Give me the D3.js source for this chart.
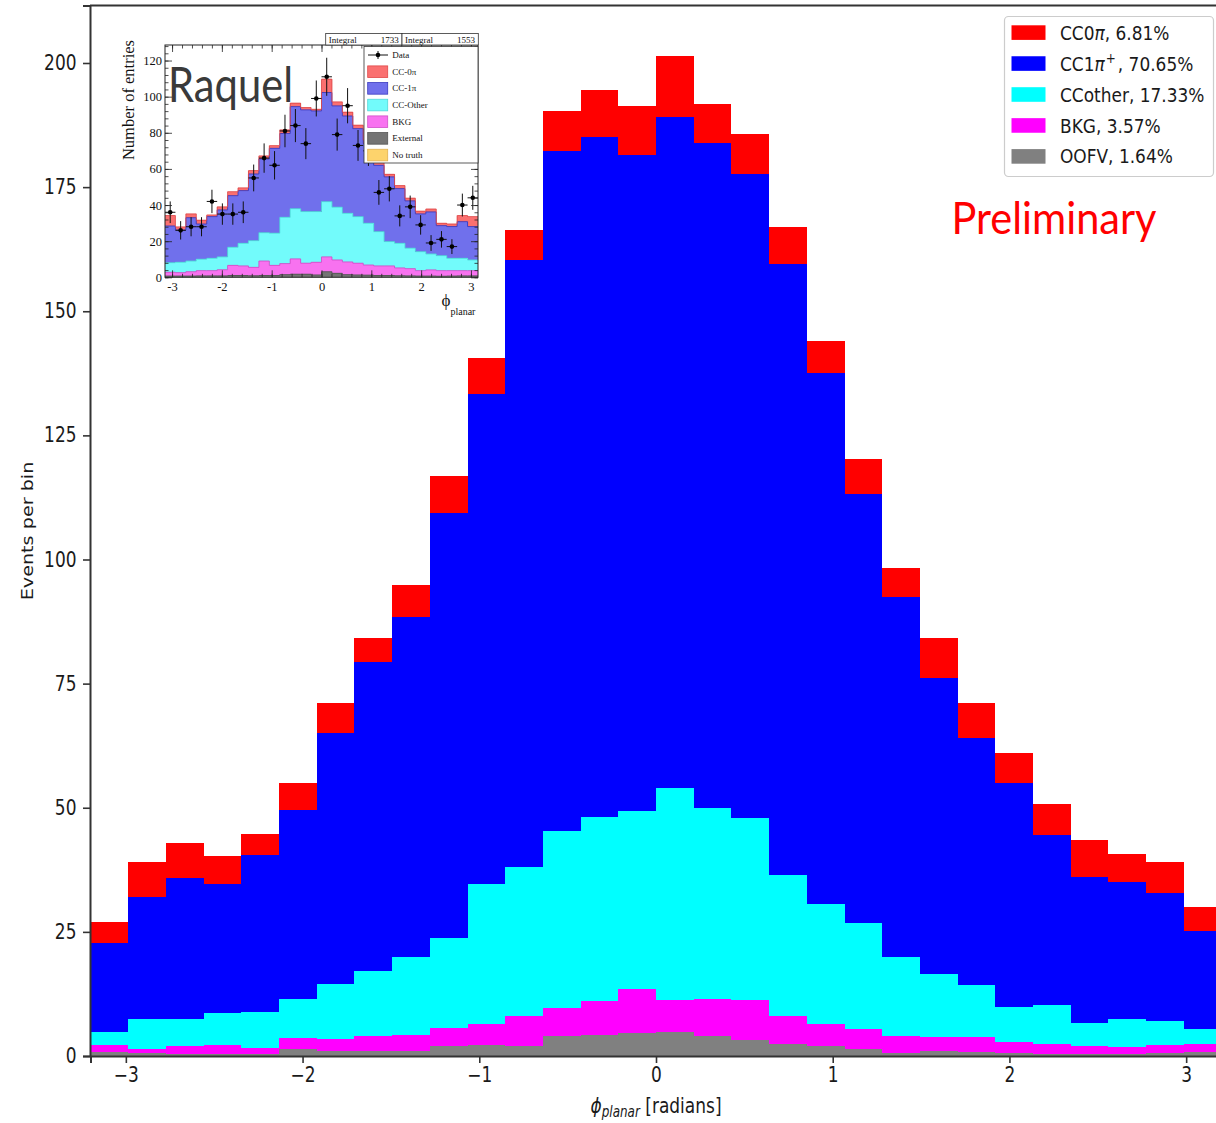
<!DOCTYPE html>
<html>
<head>
<meta charset="utf-8">
<script src="https://cdn.jsdelivr.net/npm/d3@7"></script>
<style>
body { margin: 0; background: #fff; }
svg { display: block; }
</style>
</head>
<body>
<div id="chart"></div>
<script>
// main histogram: 30 bins on [-3.2, 3.2]
var binLo = -3.2, binHi = 3.2;
var cc0pi   = [4.2, 6.9, 7.1, 5.6, 4.3, 5.3, 5.9, 4.8, 6.4, 7.6, 7.2, 6.0, 8.1, 9.4, 10.0, 12.3, 8.0, 8.0, 7.4, 6.5, 7.1, 5.8, 8.1, 7.1, 6.1, 6.2, 7.4, 5.6, 6.1, 4.9];
var cc1pip  = [17.9, 24.7, 28.3, 25.9, 31.6, 38.1, 50.5, 62.1, 68.4, 85.6, 98.7, 122.3, 136.8, 136.9, 132.0, 135.3, 133.8, 129.7, 123.1, 106.9, 86.4, 72.4, 59.5, 49.8, 45.0, 34.3, 29.5, 27.7, 25.8, 19.7];
var ccother = [2.7, 5.9, 5.4, 6.5, 7.2, 7.8, 11.1, 13.1, 15.7, 18.1, 28.1, 30.1, 35.7, 37.1, 36.0, 42.6, 38.5, 36.7, 28.4, 24.2, 21.2, 16.0, 12.8, 10.3, 7.1, 7.9, 4.5, 5.5, 4.9, 3.0];
var bkg     = [1.4, 0.8, 1.7, 1.7, 1.1, 2.3, 2.5, 3.1, 3.3, 3.6, 4.2, 5.9, 5.7, 6.8, 8.8, 6.4, 7.5, 8.0, 5.7, 4.4, 4.0, 3.3, 2.8, 3.0, 2.2, 1.9, 1.7, 1.5, 1.6, 1.5];
var oofv    = [0.8, 0.7, 0.4, 0.5, 0.5, 1.4, 1.0, 1.0, 1.0, 2.0, 2.3, 2.1, 4.0, 4.3, 4.6, 4.9, 4.0, 3.2, 2.4, 2.1, 1.5, 0.7, 1.0, 0.9, 0.6, 0.5, 0.4, 0.4, 0.6, 0.9];

var stackKeys = ["oofv", "bkg", "ccother", "cc1pip", "cc0pi"];
var colors = { oofv: "#808080", bkg: "#ff00ff", ccother: "#00ffff", cc1pip: "#0000ff", cc0pi: "#ff0000" };
var legendKeys = ["cc0pi", "cc1pip", "ccother", "bkg", "oofv"];
var legendLabels = [
    [{ t: "CC0" }, { t: "π", it: 1 }, { t: ", 6.81%" }],
    [{ t: "CC1" }, { t: "π", it: 1 }, { t: "+", sup: 1 }, { t: ", 70.65%" }],
    [{ t: "CCother, 17.33%" }],
    [{ t: "BKG, 3.57%" }],
    [{ t: "OOFV, 1.64%" }]
];
var yTicks = [0, 25, 50, 75, 100, 125, 150, 175, 200];
var xTicks = [-3, -2, -1, 0, 1, 2, 3];

// inset (ROOT plot), 30 bins on [-pi, pi]
var insetExt   = [0.7, 0.7, 0.7, 0.8, 0.8, 0.8, 1.0, 1.0, 0.9, 1.0, 1.0, 1.5, 1.7, 1.7, 1.3, 3.1, 2.2, 1.5, 1.3, 1.2, 1.0, 1.0, 0.9, 0.8, 0.7, 0.7, 0.6, 0.7, 0.8, 0.8];
var insetBkg   = [2.1, 1.9, 2.4, 2.9, 2.9, 3.4, 5.6, 5.3, 4.6, 8.0, 5.6, 6.1, 8.5, 6.1, 7.0, 8.2, 7.4, 7.0, 6.5, 5.6, 5.3, 5.3, 4.3, 4.0, 3.0, 3.4, 3.1, 3.0, 2.9, 2.9];
var insetOther = [5.3, 5.7, 5.9, 6.3, 6.8, 7.1, 10.0, 12.5, 14.8, 15.7, 17.8, 25.6, 27.8, 28.6, 28.1, 30.6, 29.2, 26.9, 25.8, 23.1, 19.0, 13.5, 13.6, 11.3, 10.5, 8.8, 8.3, 6.8, 6.8, 5.9];
var insetCC1pi = [20.3, 17.9, 24.0, 19.5, 23.1, 26.0, 28.6, 29.2, 36.9, 40.8, 47.0, 46.4, 56.5, 56.3, 55.7, 60.4, 56.1, 53.9, 48.7, 44.1, 36.7, 35.8, 30.3, 26.2, 20.9, 23.3, 16.6, 17.6, 20.3, 18.5];
var insetCC0pi = [5.8, 1.7, 2.1, 2.1, 0.9, 1.7, 2.2, 1.5, 1.9, 1.7, 1.5, 2.0, 1.9, 1.3, 0.9, 7.4, 2.2, 2.1, 1.9, 2.0, 2.0, 1.4, 1.7, 1.5, 1.5, 1.6, 1.3, 1.4, 3.4, 5.5];
var insetData  = [36, 26, 28, 28, 42, 35, 35, 36, 55, 66, 62, 81, 84, 74, 99, 111, 79, 95, 73, 70, 47, 49, 34, 39, 29, 19, 21, 17, 40, 44];
var insetKeys = ["ext", "bkg", "other", "cc1pi", "cc0pi"];
var insetColors = { ext: "#747474", bkg: "#f872f0", other: "#72fbfb", cc1pi: "#7070ec", cc0pi: "#fa7070", notruth: "#fdd36c" };
var insetLegend = [["cc0pi", "CC-0π"], ["cc1pi", "CC-1π"], ["other", "CC-Other"], ["bkg", "BKG"], ["ext", "External"], ["notruth", "No truth"]];
var insetYTicks = [0, 20, 40, 60, 80, 100, 120];
var insetXTicks = [-3, -2, -1, 0, 1, 2, 3];
var integrals = ["1733", "1553"];

var W = 1216, H = 1123;
var mainFont = "DejaVu Sans";
var serif = "Liberation Serif";

var svg = d3.select("#chart").append("svg")
    .attr("width", W)
    .attr("height", H);

var x = d3.scaleLinear().domain([binLo, binHi]).range([90.5, 1221.5]);
var y = d3.scaleLinear().domain([0, 211.6]).range([1056, 5.4]);

var nBins = cc0pi.length;
var edges = d3.range(nBins + 1).map(function (i) { return binLo + i * (binHi - binLo) / nBins; });
var rows = d3.range(nBins).map(function (i) {
    return { lo: edges[i], hi: edges[i + 1], oofv: oofv[i], bkg: bkg[i], ccother: ccother[i], cc1pip: cc1pip[i], cc0pi: cc0pi[i] };
});
var stacked = d3.stack().keys(stackKeys)(rows);

svg.append("g").selectAll("g")
    .data(stacked)
    .enter().append("g")
    .attr("fill", function (d) { return colors[d.key]; })
    .selectAll("rect")
    .data(function (d) { return d; })
    .enter().append("rect")
    .attr("shape-rendering", "crispEdges")
    .attr("x", function (d) { return x(d.data.lo); })
    .attr("width", function (d) { return x(d.data.hi) - x(d.data.lo); })
    .attr("y", function (d) { return y(d[1]); })
    .attr("height", function (d) { return y(d[0]) - y(d[1]); });

// axes
var yaxis = svg.append("g")
    .attr("transform", "translate(90,0)")
    .call(d3.axisLeft(y).tickValues(yTicks).tickSizeOuter(0).tickSize(7).tickPadding(6.5));
var xaxis = svg.append("g")
    .attr("transform", "translate(0,1056)")
    .call(d3.axisBottom(x).tickValues(xTicks).tickSizeOuter(0).tickSize(7).tickPadding(6)
        .tickFormat(d3.format("d")));

[yaxis, xaxis].forEach(function (ax) {
    ax.select(".domain").attr("stroke", "#333").attr("stroke-width", 2);
    ax.selectAll(".tick line").attr("stroke", "#333").attr("stroke-width", 1.6);
    ax.selectAll(".tick text")
        .attr("fill", "#1a1a1a")
        .style("font-family", mainFont)
        .style("font-size", "17px");
});
yaxis.selectAll(".tick text").attr("transform", "scale(1,1.2)");
xaxis.selectAll(".tick text").attr("y", 10).attr("transform", "scale(1,1.2)");

svg.append("line")
    .attr("x1", 90).attr("x2", 1222)
    .attr("y1", 5.4).attr("y2", 5.4)
    .attr("stroke", "#333").attr("stroke-width", 2);

// axis titles
svg.append("g")
    .attr("transform", "translate(33,531) scale(1,1.2) rotate(-90)")
    .append("text")
    .attr("text-anchor", "middle")
    .style("font-family", mainFont)
    .style("font-size", "16px")
    .attr("fill", "#1a1a1a")
    .text("Events per bin");

var xl = svg.append("g")
    .attr("transform", "translate(656,1113) scale(1,1.25)")
    .append("text")
    .attr("text-anchor", "middle")
    .style("font-family", mainFont)
    .style("font-size", "17px")
    .attr("fill", "#1a1a1a");
xl.append("tspan").style("font-style", "italic").text("ϕ");
xl.append("tspan").style("font-style", "italic").style("font-size", "12px").attr("dy", 3.5).text("planar");
xl.append("tspan").attr("dy", -3.5).text(" [radians]");

// legend
var leg = svg.append("g");
leg.append("rect")
    .attr("x", 1004.5).attr("y", 16.5)
    .attr("width", 209).attr("height", 160)
    .attr("rx", 4)
    .attr("fill", "#fff").attr("fill-opacity", 0.8)
    .attr("stroke", "#cccccc").attr("stroke-width", 1.2);

legendKeys.forEach(function (k, i) {
    var cy = 32.6 + i * 30.95;
    leg.append("rect")
        .attr("x", 1011.5).attr("y", cy - 7.3)
        .attr("width", 34).attr("height", 14.6)
        .attr("fill", colors[k]);
    var t = leg.append("g")
        .attr("transform", "translate(1060," + cy + ") scale(1,1.15)")
        .append("text")
        .attr("dy", "0.36em")
        .style("font-family", mainFont)
        .style("font-size", "17px")
        .attr("fill", "#1a1a1a");
    var prevSup = false;
    legendLabels[i].forEach(function (s) {
        var sp = t.append("tspan").text(s.t);
        if (s.it) sp.style("font-style", "italic");
        if (s.sup) {
            sp.style("font-size", "12px").attr("dy", -7).attr("dx", 1);
        } else if (prevSup) {
            sp.attr("dy", 7).attr("dx", 2);
        }
        prevSup = !!s.sup;
    });
});

svg.append("text")
    .attr("x", 951.5).attr("y", 234.3)
    .attr("textLength", 205).attr("lengthAdjust", "spacingAndGlyphs")
    .style("font-family", "Lato")
    .style("font-size", "45px")
    .attr("fill", "#ff0000")
    .text("Preliminary");

// ---------- inset ----------
var ins = svg.append("g");
var ix = d3.scaleLinear().domain([-Math.PI, Math.PI]).range([165, 478]);
var iy = d3.scaleLinear().domain([0, 128.6]).range([277.3, 45]);

var iedges = d3.range(31).map(function (i) { return -Math.PI + i * 2 * Math.PI / 30; });
var irows = d3.range(30).map(function (i) {
    return { lo: iedges[i], hi: iedges[i + 1], ext: insetExt[i], bkg: insetBkg[i], other: insetOther[i], cc1pi: insetCC1pi[i], cc0pi: insetCC0pi[i] };
});
var istacked = d3.stack().keys(insetKeys)(irows);

ins.append("g").selectAll("g")
    .data(istacked)
    .enter().append("g")
    .attr("fill", function (d) { return insetColors[d.key]; })
    .selectAll("rect")
    .data(function (d) { return d; })
    .enter().append("rect")
    .attr("shape-rendering", "crispEdges")
    .attr("x", function (d) { return ix(d.data.lo); })
    .attr("width", function (d) { return ix(d.data.hi) - ix(d.data.lo); })
    .attr("y", function (d) { return iy(d[1]); })
    .attr("height", function (d) { return iy(d[0]) - iy(d[1]); });

// darker step outline on top of the layers
var outline = { cc0pi: "#e04848", cc1pi: "#3a3ac0", other: "#50d8d8", bkg: "#d050c8", ext: "#555" };
istacked.forEach(function (layer) {
    var pts = layer.map(function (d) { return [d.data.lo, d[1]]; });
    pts.push([Math.PI, layer[layer.length - 1][1]]);
    ins.append("path")
        .attr("d", d3.line().curve(d3.curveStepAfter)
            .x(function (p) { return ix(p[0]); })
            .y(function (p) { return iy(p[1]); })(pts))
        .attr("fill", "none")
        .attr("stroke", outline[layer.key])
        .attr("stroke-width", 0.9);
});

// data points with poisson errors
var pts = ins.append("g");
insetData.forEach(function (v, i) {
    var cx = ix((iedges[i] + iedges[i + 1]) / 2);
    var e = Math.sqrt(v);
    pts.append("line")
        .attr("x1", cx).attr("x2", cx)
        .attr("y1", iy(v - e)).attr("y2", iy(v + e))
        .attr("stroke", "#111").attr("stroke-width", 1);
    pts.append("line")
        .attr("x1", ix(iedges[i])).attr("x2", ix(iedges[i + 1]))
        .attr("y1", iy(v)).attr("y2", iy(v))
        .attr("stroke", "#111").attr("stroke-width", 1);
    pts.append("circle")
        .attr("cx", cx).attr("cy", iy(v)).attr("r", 2.3)
        .attr("fill", "#000");
});

// frame and ticks
ins.append("rect")
    .attr("x", 165).attr("y", 45)
    .attr("width", 313).attr("height", 232.3)
    .attr("fill", "none").attr("stroke", "#222").attr("stroke-width", 1);

var iyMinor = d3.range(0, 129, 4);
var ixMinor = d3.range(-3.0, 3.15, 0.2);
function tickStyle(ax) {
    ax.select(".domain").remove();
    ax.selectAll(".tick line").attr("stroke", "#222").attr("stroke-width", 0.8);
    ax.selectAll(".tick text")
        .attr("fill", "#111")
        .style("font-family", serif)
        .style("font-size", "12.5px");
}
var iya = ins.append("g").attr("transform", "translate(165,0)")
    .call(d3.axisLeft(iy).tickValues(insetYTicks).tickSizeInner(-7).tickSizeOuter(0).tickPadding(3).tickFormat(function (d) { return String(d); }));
tickStyle(iya);
var iyb = ins.append("g").attr("transform", "translate(165,0)")
    .call(d3.axisLeft(iy).tickValues(iyMinor).tickSizeInner(-3.5).tickSizeOuter(0).tickFormat(""));
tickStyle(iyb);
var iyc = ins.append("g").attr("transform", "translate(478,0)")
    .call(d3.axisRight(iy).tickValues(insetYTicks).tickSizeInner(-7).tickSizeOuter(0).tickFormat(""));
tickStyle(iyc);
var iyd = ins.append("g").attr("transform", "translate(478,0)")
    .call(d3.axisRight(iy).tickValues(iyMinor).tickSizeInner(-3.5).tickSizeOuter(0).tickFormat(""));
tickStyle(iyd);
var ixa = ins.append("g").attr("transform", "translate(0,277.3)")
    .call(d3.axisBottom(ix).tickValues(insetXTicks).tickSizeInner(-7).tickSizeOuter(0).tickPadding(5).tickFormat(function (d) { return String(d); }));
tickStyle(ixa);
var ixb = ins.append("g").attr("transform", "translate(0,277.3)")
    .call(d3.axisBottom(ix).tickValues(ixMinor).tickSizeInner(-3.5).tickSizeOuter(0).tickFormat(""));
tickStyle(ixb);
var ixc = ins.append("g").attr("transform", "translate(0,45)")
    .call(d3.axisTop(ix).tickValues(insetXTicks).tickSizeInner(-7).tickSizeOuter(0).tickFormat(""));
tickStyle(ixc);
var ixd = ins.append("g").attr("transform", "translate(0,45)")
    .call(d3.axisTop(ix).tickValues(ixMinor).tickSizeInner(-3.5).tickSizeOuter(0).tickFormat(""));
tickStyle(ixd);

// inset titles
ins.append("text")
    .attr("transform", "translate(134,40) rotate(-90)")
    .attr("text-anchor", "end")
    .style("font-family", serif)
    .style("font-size", "16.5px")
    .attr("fill", "#111")
    .text("Number of entries");
var phi = ins.append("text")
    .attr("x", 441.5).attr("y", 306)
    .style("font-family", serif)
    .attr("fill", "#111");
phi.append("tspan").style("font-size", "17px").text("ϕ");
phi.append("tspan").style("font-size", "10px").attr("dy", 9).text("planar");

// stats boxes
integrals.forEach(function (v, i) {
    var bx = 325.7 + i * 76.3;
    ins.append("rect")
        .attr("x", bx).attr("y", 33.5)
        .attr("width", 76.3).attr("height", 11.5)
        .attr("fill", "#fff").attr("stroke", "#333").attr("stroke-width", 0.8);
    ins.append("text")
        .attr("x", bx + 3).attr("y", 42.6)
        .style("font-family", serif).style("font-size", "9px").attr("fill", "#111")
        .text("Integral");
    ins.append("text")
        .attr("x", bx + 73).attr("y", 42.6)
        .attr("text-anchor", "end")
        .style("font-family", serif).style("font-size", "9px").attr("fill", "#111")
        .text(v);
});

// inset legend
ins.append("rect")
    .attr("x", 364).attr("y", 46.5)
    .attr("width", 114).attr("height", 116.5)
    .attr("fill", "#fff").attr("stroke", "#333").attr("stroke-width", 0.8);
ins.append("line")
    .attr("x1", 368).attr("x2", 388).attr("y1", 55).attr("y2", 55)
    .attr("stroke", "#111").attr("stroke-width", 1);
ins.append("line")
    .attr("x1", 378).attr("x2", 378).attr("y1", 51).attr("y2", 59)
    .attr("stroke", "#111").attr("stroke-width", 1);
ins.append("circle").attr("cx", 378).attr("cy", 55).attr("r", 2.3).attr("fill", "#000");
ins.append("text")
    .attr("x", 392.3).attr("y", 58)
    .style("font-family", serif).style("font-size", "9px").attr("fill", "#111")
    .text("Data");
insetLegend.forEach(function (e, i) {
    var cy = 71.7 + i * 16.67;
    ins.append("rect")
        .attr("x", 367.7).attr("y", cy - 5.8)
        .attr("width", 20).attr("height", 11.6)
        .attr("fill", insetColors[e[0]])
        .attr("stroke", outline[e[0]] || "#e0b050").attr("stroke-width", 0.8);
    ins.append("text")
        .attr("x", 392.3).attr("y", cy + 3)
        .style("font-family", serif).style("font-size", "9px").attr("fill", "#111")
        .text(e[1]);
});

svg.append("text")
    .attr("x", 168).attr("y", 101.7)
    .attr("textLength", 125).attr("lengthAdjust", "spacingAndGlyphs")
    .style("font-family", "Lato")
    .style("font-size", "48px")
    .attr("fill", "#3a3a3a")
    .text("Raquel");
</script>
</body>
</html>
